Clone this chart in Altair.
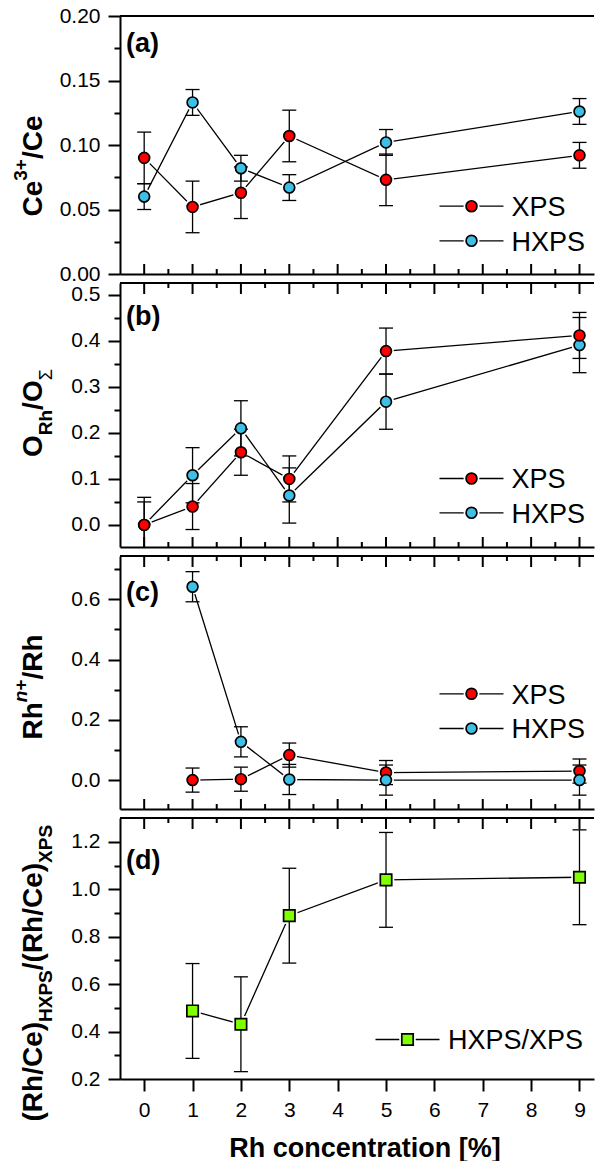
import altair as alt
import pandas as pd

# ---------------- data ----------------
SERIES = ["XPS", "HXPS"]
SERIES_COLORS = {"XPS": "#FF0000", "HXPS": "#3EC0E6"}
RATIO_NAME = "HXPS/XPS"
RATIO_COLOR = "#80FF00"

# (a) Ce3+/Ce
RH_A = [0, 1, 2, 3, 5, 9]
CE3_XPS = [0.090, 0.052, 0.063, 0.107, 0.073, 0.092]
CE3_XPS_ERR = [0.020, 0.020, 0.020, 0.020, 0.020, 0.010]
CE3_HXPS = [0.060, 0.133, 0.082, 0.067, 0.102, 0.126]
CE3_HXPS_ERR = [0.010, 0.010, 0.010, 0.010, 0.010, 0.010]

# (b) O_Rh/O_Sigma
RH_B = [0, 1, 2, 3, 5, 9]
ORH_XPS = [0.000, 0.040, 0.158, 0.100, 0.378, 0.412]
ORH_XPS_ERR = [0.050, 0.050, 0.050, 0.050, 0.050, 0.050]
ORH_HXPS = [0.000, 0.108, 0.210, 0.064, 0.268, 0.391]
ORH_HXPS_ERR = [0.060, 0.060, 0.060, 0.060, 0.060, 0.060]

# (c) Rh^n+/Rh
RH_C = [1, 2, 3, 5, 9]
RHN_XPS = [0.000, 0.003, 0.083, 0.025, 0.030]
RHN_XPS_ERR = [0.040, 0.040, 0.040, 0.040, 0.040]
RHN_HXPS = [0.642, 0.127, 0.002, 0.000, 0.000]
RHN_HXPS_ERR = [0.050, 0.050, 0.050, 0.050, 0.050]

# (d) (Rh/Ce)_HXPS / (Rh/Ce)_XPS
RH_D = [1, 2, 3, 5, 9]
RATIO = [0.487, 0.431, 0.889, 1.040, 1.051]
RATIO_ERR = [0.200, 0.200, 0.200, 0.200, 0.200]

# tick values
X_MAJOR = [0, 1, 2, 3, 4, 5, 6, 7, 8, 9]
X_MINOR = [0.5, 1.5, 2.5, 3.5, 4.5, 5.5, 6.5, 7.5, 8.5]
Y_TICKS_A = [0.0, 0.025, 0.05, 0.075, 0.1, 0.125, 0.15, 0.175, 0.2]
Y_TICKS_B = [0.0, 0.05, 0.1, 0.15, 0.2, 0.25, 0.3, 0.35, 0.4, 0.45, 0.5]
Y_TICKS_C = [0.0, 0.1, 0.2, 0.3, 0.4, 0.5, 0.6, 0.7]
Y_TICKS_D = [0.2, 0.3, 0.4, 0.5, 0.6, 0.7, 0.8, 0.9, 1.0, 1.1, 1.2]

X_TITLE = "Rh concentration [%]"

# ---------------- style ----------------
FONT = "Liberation Sans"
W = 474
XDOM = [-0.5, 9.3]
MS_CIRCLE, MS_SQUARE = 118, 130
HALO_CIRCLE, HALO_SQUARE = 250, 270
MSW = 1.7
TX = -78.5  # baseline of rotated y titles (panel coords)

# Arial/Liberation Sans Bold advance widths (em)
ADV = {"C": .722, "e": .556, "/": .278, "3": .556, "+": .584, "O": .778, "R": .722,
       "h": .611, "n": .611, "(": .333, ")": .333, "H": .722, "X": .667, "P": .667,
       "S": .667, "Σ": .62}
STY = {  # size, weight, style, x-shift
    "main": (28, "bold", "normal", 0),
    "sup": (19, "bold", "normal", -15),
    "supi": (19, "bold", "italic", -15),
    "sub": (19, "bold", "normal", 10),
    "subr": (18, "normal", "normal", 10),
}


def frame(xs, series):
    rows = []
    for name, ys, es in series:
        for x, y, e in zip(xs, ys, es):
            rows.append({"x": x, "y": y, "err": e, "series": name})
    return pd.DataFrame(rows)


def one(t=""):
    return pd.DataFrame({"t": [t]})


def panel(df, ydom, h, yticks, ystep, yfmt, order, colors, shape, label, label_y,
          pieces, title_start, legend_rows, legend_x, top_ticks, bottom_inner,
          xaxis, anchor=False):
    xs = alt.Scale(domain=XDOM, nice=False, zero=False)
    ys = alt.Scale(domain=ydom, nice=False, zero=False)
    minor = f"abs(datum.value / {ystep} - round(datum.value / {ystep})) > 0.01"
    yaxis = alt.Axis(values=yticks, format=yfmt, title=None, grid=False,
                     domainColor="black", domainWidth=2, tickColor="black", tickWidth=2,
                     tickSize={"condition": {"test": minor, "value": 6}, "value": 12},
                     labelExpr=f"({minor}) ? '' : datum.label",
                     labelFont=FONT, labelFontSize=21, labelColor="black",
                     labelPadding=8, labelOverlap=False, labelFlush=False)

    def X():
        return alt.X("x:Q", scale=xs, axis=xaxis)

    def Y(f="y"):
        return alt.Y(f + ":Q", scale=ys, axis=yaxis)

    ms = MS_CIRCLE if shape == "circle" else MS_SQUARE
    hs = HALO_CIRCLE if shape == "circle" else HALO_SQUARE

    layers = []
    # connecting lines
    layers.append(alt.Chart(df).mark_line(color="black", strokeWidth=1.3).encode(
        x=X(), y=Y(), detail="series:N", order="x:Q"))
    # top frame line
    layers.append(alt.Chart(one()).mark_rule(color="black", strokeWidth=2).encode(
        x=alt.value(0), x2=alt.value(W), y=alt.value(0)))
    # inward x ticks
    if top_ticks:
        for vals, ln in ((X_MAJOR, 11), (X_MINOR, 5)):
            layers.append(alt.Chart(pd.DataFrame({"x": vals})).mark_rule(
                color="black", strokeWidth=2).encode(
                x=X(), y=alt.value(0), y2=alt.value(ln)))
    if bottom_inner:
        for vals, ln in ((X_MAJOR, 10), (X_MINOR, 5)):
            layers.append(alt.Chart(pd.DataFrame({"x": vals})).mark_rule(
                color="black", strokeWidth=2).encode(
                x=X(), y=alt.value(h), y2=alt.value(h - ln)))
    # white halos (gap between line and symbol)
    layers.append(alt.Chart(df).mark_point(shape=shape, filled=True, color="white",
                                           size=hs, opacity=1).encode(x=X(), y=Y()))
    # error bars
    eb = alt.Chart(df).transform_calculate(lo="datum.y - datum.err", hi="datum.y + datum.err")
    layers.append(eb.mark_rule(color="black", strokeWidth=1.3, clip=True).encode(
        x=X(), y=Y("lo"), y2="hi:Q"))
    for f in ("lo", "hi"):
        layers.append(eb.mark_rule(color="black", strokeWidth=1.3, clip=True,
                                   xOffset=-7, x2Offset=7).encode(
            x=X(), x2="x:Q", y=Y(f)))
    # symbols
    for name in order:
        col = colors[name]
        layers.append(alt.Chart(df).transform_filter(alt.datum.series == name).mark_point(
            shape=shape, filled=True, fill=col, stroke="black", strokeWidth=MSW,
            size=ms, opacity=1).encode(x=X(), y=Y()))
    # panel label
    layers.append(alt.Chart(one(label)).mark_text(
        align="left", baseline="alphabetic", font=FONT, fontSize=27, fontWeight="bold",
        color="black").encode(x=alt.value(6), y=alt.value(label_y), text="t:N"))
    # rotated y title built from pieces (super/subscripts)
    pos = title_start
    for text, kind in pieces:
        fs, wt, st, sh = STY[kind]
        layers.append(alt.Chart(one(text)).mark_text(
            angle=270, align="left", baseline="alphabetic", font=FONT, fontSize=fs,
            fontWeight=wt, fontStyle=st, color="black").encode(
            x=alt.value(TX + sh), y=alt.value(pos), text="t:N"))
        pos -= sum(ADV[c] for c in text) * fs
    # legend
    x0, x1, mx, tx = legend_x
    for name, ly in legend_rows:
        col = colors[name]
        layers.append(alt.Chart(one(name)).mark_rule(color="black", strokeWidth=1.3).encode(
            x=alt.value(x0), x2=alt.value(x1), y=alt.value(ly)))
        layers.append(alt.Chart(one(name)).mark_point(shape=shape, filled=True, color="white",
                                                      size=hs, opacity=1).encode(
            x=alt.value(mx), y=alt.value(ly)))
        layers.append(alt.Chart(one(name)).mark_point(
            shape=shape, filled=True, fill=col, stroke="black", strokeWidth=MSW,
            size=ms, opacity=1).encode(x=alt.value(mx), y=alt.value(ly)))
        layers.append(alt.Chart(one(name)).mark_text(
            align="left", baseline="alphabetic", font=FONT, fontSize=27,
            color="black").encode(x=alt.value(tx), y=alt.value(ly + 9.7), text="t:N"))
    if anchor:
        layers.append(alt.Chart(one()).mark_rule(opacity=0, strokeWidth=1, color="white").encode(
            x=alt.value(-120), x2=alt.value(-119), y=alt.value(-16)))
    return alt.layer(*layers).properties(width=W, height=h)


plain_x = alt.Axis(domain=True, domainColor="black", domainWidth=2, ticks=False,
                   labels=False, title=None, grid=False)
minor_x = "abs(datum.value - round(datum.value)) > 0.01"
xaxis_d = alt.Axis(values=X_MAJOR + X_MINOR, format="d", grid=False,
                   domainColor="black", domainWidth=2, tickColor="black", tickWidth=2,
                   tickSize={"condition": {"test": minor_x, "value": 6}, "value": 12},
                   labelExpr=f"({minor_x}) ? '' : datum.label",
                   labelFont=FONT, labelFontSize=21, labelColor="black", labelPadding=8,
                   labelOverlap=False, labelFlush=False,
                   title=X_TITLE, titleFont=FONT, titleFontSize=27, titleFontWeight="bold",
                   titleColor="black", titleX=244.5, titleY=77, titleAlign="center",
                   titleBaseline="alphabetic", titleAngle=0)

LEG_X = (319.5, 383.5, 351.5, 391.5)
LEG_X_D = (255.5, 319.5, 287.5, 328)

df_a = frame(RH_A, [("XPS", CE3_XPS, CE3_XPS_ERR), ("HXPS", CE3_HXPS, CE3_HXPS_ERR)])
df_b = frame(RH_B, [("XPS", ORH_XPS, ORH_XPS_ERR), ("HXPS", ORH_HXPS, ORH_HXPS_ERR)])
df_c = frame(RH_C, [("XPS", RHN_XPS, RHN_XPS_ERR), ("HXPS", RHN_HXPS, RHN_HXPS_ERR)])
df_d = frame(RH_D, [(RATIO_NAME, RATIO, RATIO_ERR)])

pa = panel(df_a, [0, 0.2], 258, Y_TICKS_A, 0.05, ".2f", ["XPS", "HXPS"], SERIES_COLORS,
           "circle", "(a)", 35.5, [("Ce", "main"), ("3+", "sup"), ("/Ce", "main")], 200.5,
           [("XPS", 190.2), ("HXPS", 224.8)], LEG_X, False, True, plain_x, anchor=True)
pb = panel(df_b, [-0.048, 0.526], 264, Y_TICKS_B, 0.1, ".1f", ["HXPS", "XPS"], SERIES_COLORS,
           "circle", "(b)", 41.5,
           [("O", "main"), ("Rh", "sub"), ("/O", "main"), ("Σ", "subr")], 174,
           [("XPS", 195.5), ("HXPS", 229.8)], LEG_X, True, True, plain_x)
pc = panel(df_c, [-0.096, 0.744], 253, Y_TICKS_C, 0.2, ".1f", ["XPS", "HXPS"], SERIES_COLORS,
           "circle", "(c)", 45.2,
           [("Rh", "main"), ("n", "supi"), ("+", "sup"), ("/Rh", "main")], 183.5,
           [("XPS", 137.8), ("HXPS", 172.5)], LEG_X, True, True, plain_x)
pd_ = panel(df_d, [0.2, 1.301], 261, Y_TICKS_D, 0.2, ".1f", [RATIO_NAME], {RATIO_NAME: RATIO_COLOR},
            "square", "(d)", 50.5,
            [("(Rh/Ce)", "main"), ("HXPS", "sub"), ("/(Rh/Ce)", "main"), ("XPS", "sub")], 303.5,
            [(RATIO_NAME, 221.5)], LEG_X_D, True, False, xaxis_d)

chart = alt.vconcat(pa, pb, pc, pd_, spacing=9, bounds="flush", padding=0).configure_view(
    strokeOpacity=0)

chart.save("out.html", embed_options={"renderer": "svg", "actions": False})
